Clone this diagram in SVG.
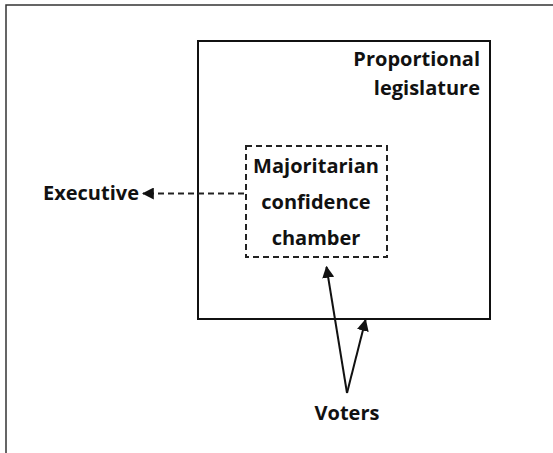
<svg xmlns="http://www.w3.org/2000/svg" width="553" height="453" viewBox="0 0 553 453">
<style>
.t{font-family:"Open Sans","Liberation Sans",sans-serif;font-weight:bold;fill:#111;}
.solid{fill:none;stroke:#111;stroke-width:2;}
.dash{fill:none;stroke:#222;stroke-width:2;stroke-dasharray:6,4;}
</style>
<defs>
<marker id="ah" viewBox="0 0 10 10" refX="9" refY="5" markerWidth="6" markerHeight="6" orient="auto-start-reverse" markerUnits="strokeWidth">
<path d="M0,0 L10,5 L0,10 z" fill="#111"/>
</marker>
</defs>
<rect x="0" y="0" width="553" height="453" fill="#fff"/>
<rect x="6" y="5" width="560" height="460" fill="none" stroke="#333" stroke-width="1.5"/>
<g id="legislature">
<rect class="solid" x="198" y="41" width="292" height="278"/>
<text class="t" x="480" y="66" font-size="20" text-anchor="end">Proportional</text>
<text class="t" x="480" y="95" font-size="20" text-anchor="end">legislature</text>
</g>
<g id="chamber">
<rect class="dash" x="246" y="146" width="141" height="111"/>
<text class="t" x="316" y="173" font-size="20" text-anchor="middle">Majoritarian</text>
<text class="t" x="316" y="209" font-size="20" text-anchor="middle">confidence</text>
<text class="t" x="316" y="245" font-size="20" text-anchor="middle">chamber</text>
</g>
<g id="executive">
<text class="t" x="43" y="200" font-size="20">Executive</text>
</g>
<g id="voters">
<text class="t" x="347" y="420" font-size="20" text-anchor="middle">Voters</text>
</g>
<g id="connectors">
<line class="dash" x1="244" y1="193.5" x2="143" y2="193.5" marker-end="url(#ah)"/>
<line class="solid" x1="347" y1="393" x2="326.5" y2="267" marker-end="url(#ah)"/>
<line class="solid" x1="347" y1="393" x2="365.5" y2="320" marker-end="url(#ah)"/>
</g>
</svg>
